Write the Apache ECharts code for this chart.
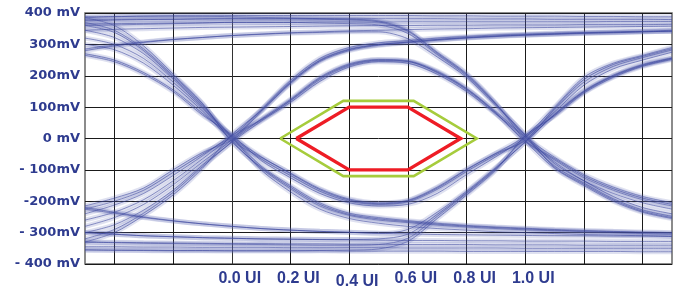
<!DOCTYPE html>
<html><head><meta charset="utf-8">
<script src="https://cdn.jsdelivr.net/npm/echarts@6/dist/echarts.min.js"></script>
<style>html,body{margin:0;padding:0;background:#fff}#c{width:682px;height:289px}</style>
</head><body><div id="c"></div>
<script>
// x positions (UI) of every sample in the traces
const uiSteps = [-0.5,-0.4,-0.3,-0.2,-0.1,0,0.1,0.2,0.3,0.4,0.5,0.6,0.7,0.8,0.9,1.0,1.1,1.2,1.3,1.4,1.5];

// trace values in mV, grouped by bit pattern
const pattern101 = [
  [370,345,285,200,110,-6,-60,-110,-160,-193,-205,-197,-155,-98,-47,8,100,195,240,265,290],
  [320,300,255,180,95,5,-65,-118,-168,-200,-210,-202,-162,-105,-52,-5,92,180,230,258,282],
  [265,245,205,150,75,12,-70,-125,-175,-205,-215,-210,-175,-115,-58,3,85,170,222,250,275],
  [345,322,270,190,100,8,-58,-112,-163,-196,-208,-199,-158,-100,-48,-6,96,188,236,262,286]
];
const pattern100 = [
  [360,338,280,195,105,6,-88,-150,-205,-238,-252,-262,-270,-277,-282,-286,-290,-293,-296,-298,-300],
  [300,283,240,170,88,-8,-95,-160,-215,-245,-260,-268,-276,-282,-287,-291,-294,-297,-300,-303,-305],
  [270,250,210,155,80,3,-100,-170,-225,-255,-270,-280,-287,-292,-297,-300,-303,-306,-308,-310,-312],
  [385,360,295,205,112,-10,-92,-155,-210,-242,-256,-265,-273,-279,-284,-288,-292,-295,-297,-300,-302]
];
const pattern010 = [
  [-215,-190,-158,-100,-45,-5,62,125,195,238,252,248,215,160,85,6,-60,-115,-155,-185,-205],
  [-260,-235,-195,-135,-65,4,58,120,188,232,248,245,210,155,80,-10,-68,-125,-165,-195,-215],
  [-320,-290,-238,-172,-90,-12,55,115,182,228,245,240,205,150,78,3,-75,-135,-175,-205,-225],
  [-240,-212,-175,-118,-55,10,60,122,192,235,250,246,212,158,82,-8,-64,-120,-160,-190,-210]
];
const pattern011 = [
  [-225,-200,-165,-108,-50,7,92,185,255,290,305,312,320,325,330,333,336,338,340,342,345],
  [-280,-252,-210,-148,-75,-4,90,180,250,285,300,308,316,322,327,331,334,337,339,341,343],
  [-330,-300,-245,-180,-95,12,88,175,245,280,297,305,313,320,325,329,332,335,337,340,342],
  [-300,-275,-228,-165,-85,-10,86,178,248,283,299,307,315,321,326,330,333,336,338,340,342]
];
const pattern110 = [
  [385,388,390,390,390,388,386,384,382,380,375,345,275,207,112,-7,-95,-150,-200,-235,-255],
  [360,362,364,366,368,370,370,370,368,366,362,335,268,200,108,5,-88,-142,-192,-228,-248],
  [285,298,308,316,322,328,332,336,338,340,340,318,260,195,105,12,-80,-135,-185,-220,-240],
  [375,377,379,380,381,382,382,381,380,378,372,342,272,204,110,10,-92,-146,-196,-232,-252]
];
const pattern001 = [
  [-225,-238,-252,-263,-272,-280,-287,-292,-296,-299,-302,-290,-235,-168,-92,-12,78,152,202,236,257],
  [-330,-332,-334,-335,-336,-337,-338,-339,-340,-340,-338,-318,-248,-175,-97,4,75,148,198,232,254],
  [-355,-356,-357,-358,-358,-358,-358,-358,-357,-356,-352,-328,-255,-180,-100,9,72,145,195,230,252],
  [-300,-305,-310,-313,-316,-318,-320,-321,-322,-322,-320,-305,-242,-172,-95,-10,76,150,200,234,256]
];
const pattern111 = [
  [388,389,390,391,391,392,392,392,392,392,392,392,391,391,390,390,390,389,389,388,388],
  [365,366,367,368,369,370,370,370,371,371,371,372,372,372,372,372,372,372,373,373,373],
  [280,295,306,315,322,328,333,337,340,343,345,347,349,350,352,353,354,355,356,357,358],
  [345,348,350,352,354,355,356,357,358,359,360,360,361,361,362,362,362,363,363,363,364],
  [378,379,380,380,381,381,381,382,382,382,382,382,382,381,381,381,380,380,380,380,379]
];
const pattern000 = [
  [-220,-235,-250,-262,-272,-280,-287,-292,-296,-299,-302,-304,-306,-307,-308,-309,-310,-310,-311,-311,-312],
  [-330,-331,-332,-333,-334,-335,-335,-336,-336,-337,-337,-338,-338,-338,-339,-339,-339,-340,-340,-340,-340],
  [-355,-356,-356,-357,-357,-358,-358,-358,-358,-359,-359,-359,-359,-360,-360,-360,-360,-360,-360,-361,-361],
  [-300,-305,-310,-313,-316,-318,-320,-321,-322,-323,-324,-325,-325,-326,-326,-327,-327,-327,-328,-328,-328],
  [-345,-345,-346,-346,-347,-347,-347,-348,-348,-348,-348,-349,-349,-349,-349,-350,-350,-350,-350,-350,-350]
];

// eye masks (UI, mV)
const maskOuter = [[0.165,0],[0.38,120],[0.62,120],[0.835,0],[0.62,-120],[0.38,-120],[0.165,0]];
const maskInner = [[0.22,0],[0.4,100],[0.6,100],[0.78,0],[0.6,-100],[0.4,-100],[0.22,0]];

// tick labels
const yTickValues = [400,300,200,100,0,-100,-200,-300,-400];
const yTickLabels = ['400 mV','300mV','200mV','100mV','0 mV','- 100mV','-200mV','- 300mV','- 400 mV'];
const xTickValues = [0,0.2,0.4,0.6,0.8,1.0];
const xTickLabels = ['0.0 UI','0.2 UI','0.4 UI','0.6 UI','0.8 UI','1.0 UI'];

const allTraces = [].concat(pattern101,pattern100,pattern010,pattern011,pattern110,pattern001,pattern111,pattern000);

const series = [];
allTraces.forEach(tr => {
  const data = uiSteps.map((x,i)=>[x,tr[i]]);
  series.push({type:'line',data,showSymbol:false,smooth:0.3,silent:true,
    lineStyle:{color:'rgba(95,105,180,0.2)',width:5}});
  series.push({type:'line',data,showSymbol:false,smooth:0.3,silent:true,
    lineStyle:{color:'rgba(55,65,155,0.55)',width:1}});
});
series.push({type:'line',data:maskOuter,showSymbol:false,silent:true,z:5,
  lineStyle:{color:'#a6cc3c',width:2.6,join:'miter'}});
series.push({type:'line',data:maskInner,showSymbol:false,silent:true,z:6,
  lineStyle:{color:'#ee1c25',width:3.4,join:'miter'}});

const txtColor = '#2e3b8f';
const chart = echarts.init(document.getElementById('c'));
chart.setOption({
  animation:false,
  backgroundColor:'#fff',
  grid:{left:85,right:10,top:13,bottom:25,outerBoundsMode:'none',containLabel:false,
    show:true,borderColor:'#666',borderWidth:1.5,backgroundColor:'transparent'},
  xAxis:{type:'value',min:-0.5,max:1.5,interval:0.1,
    axisLine:{show:false},axisTick:{show:false},
    splitLine:{show:true,lineStyle:{color:['rgba(0,0,0,0)','#1a1a1a'],width:1}},
    axisLabel:{margin:7,color:txtColor,fontFamily:'Liberation Sans',fontWeight:'bold',fontSize:16,
      formatter:v=>{const k=xTickValues.findIndex(t=>Math.abs(t-v)<1e-6);
        if(k<0) return ''; return (k===2?'{lo|':'{n|')+xTickLabels[k]+'}';},
      rich:{n:{padding:[0,0,0,16],color:txtColor,fontFamily:'Liberation Sans',fontWeight:'bold',fontSize:16},
            lo:{padding:[3,0,0,16],color:txtColor,fontFamily:'Liberation Sans',fontWeight:'bold',fontSize:16}}}
  },
  yAxis:{type:'value',min:-400,max:400,interval:100,
    axisLine:{show:true,lineStyle:{color:'#333',width:1}},axisTick:{show:false},
    splitLine:{show:true,lineStyle:{color:'#1a1a1a',width:1}},
    axisLabel:{margin:5,color:txtColor,fontFamily:'DejaVu Sans',fontWeight:'bold',fontSize:13,
      formatter:v=>{const k=yTickValues.indexOf(Math.round(v));return k<0?'':yTickLabels[k];}}
  },
  series
});
</script></body></html>
